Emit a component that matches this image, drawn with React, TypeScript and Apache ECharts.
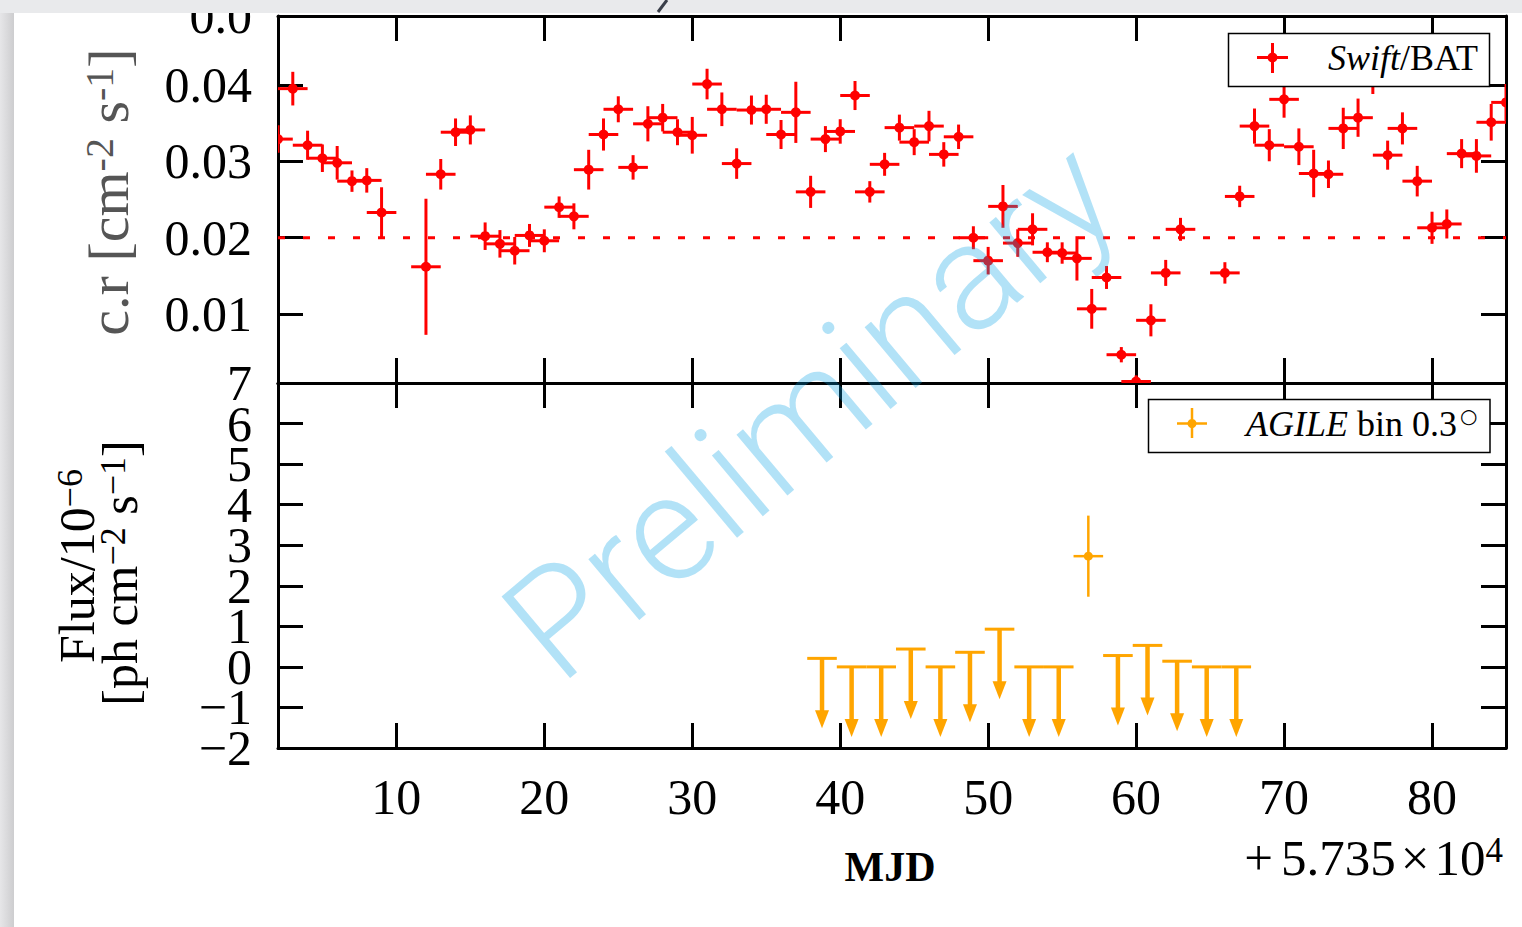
import React, { useEffect, useRef } from "react";
import * as echarts from "echarts";

// ---------------- data ----------------
const X_MIN = 2;
const X_MAX = 85;
const X_TICKS = [10, 20, 30, 40, 50, 60, 70, 80];

const BAT_Y_MIN = 0.001;
const BAT_Y_MAX = 0.049;
const BAT_Y_TICKS = [0.01, 0.02, 0.03, 0.04];

const FLUX_MIN = -2;
const FLUX_MAX = 7;
const FLUX_TICKS = [-2, -1, 0, 1, 2, 3, 4, 5, 6, 7];
const FLUX_LABELS_EVEN = [-2, 0, 2, 4, 6];
const FLUX_LABELS_ODD = [-1, 1, 3, 5, 7];

const BAT_MJD = [
  2, 3, 4, 5, 6, 7, 8, 9, 12, 13, 14, 15, 16, 17, 18, 19, 20, 21, 22, 23, 24, 25, 26, 27, 28, 29,
  30, 31, 32, 33, 34, 35, 36, 37, 38, 39, 40, 41, 42, 43, 44, 45, 46, 47, 48, 49, 50, 51, 52, 53,
  54, 55, 56, 57, 58, 59, 60, 61, 62, 63, 66, 67, 68, 69, 70, 71, 72, 73, 74, 75, 76, 77, 78, 79,
  80, 81, 82, 83, 84, 85,
];
const BAT_RATE = [
  0.0329, 0.0395, 0.0321, 0.0304, 0.0298, 0.0274, 0.0275, 0.0233, 0.0162, 0.0283, 0.0338, 0.0341,
  0.0202, 0.0192, 0.0183, 0.0203, 0.0196, 0.024, 0.0228, 0.0289, 0.0335, 0.0368, 0.0292, 0.0349,
  0.0357, 0.0338, 0.0334, 0.0401, 0.0368, 0.0297, 0.0367, 0.0368, 0.0335, 0.0364, 0.026, 0.0329,
  0.0339, 0.0386, 0.026, 0.0296, 0.0344, 0.0325, 0.0346, 0.0309, 0.0332, 0.02, 0.017, 0.0241,
  0.0193, 0.0211, 0.0181, 0.018, 0.0173, 0.0107, 0.0148, 0.0047, 0.0012, 0.0092, 0.0154, 0.0211,
  0.0154, 0.0254, 0.0346, 0.0321, 0.0381, 0.0319, 0.0284, 0.0283, 0.0343, 0.0357, 0.0412, 0.0308,
  0.0343, 0.0274, 0.0213, 0.0218, 0.031, 0.0307, 0.0351, 0.0377,
];
const BAT_ERR = [
  0.0018, 0.0022, 0.0019, 0.0018, 0.0022, 0.0014, 0.0016, 0.0033, 0.0089, 0.002, 0.0018, 0.0019,
  0.0018, 0.0018, 0.0018, 0.0015, 0.0015, 0.0014, 0.0017, 0.0026, 0.0021, 0.0017, 0.0016, 0.0023,
  0.0018, 0.0017, 0.0024, 0.002, 0.0022, 0.002, 0.0019, 0.0019, 0.0019, 0.004, 0.0021, 0.0017,
  0.0016, 0.0019, 0.0014, 0.0015, 0.0017, 0.0017, 0.002, 0.0016, 0.0016, 0.0015, 0.0018, 0.0028,
  0.0018, 0.0021, 0.0013, 0.0014, 0.0029, 0.0026, 0.0015, 0.001, 0.0008, 0.0021, 0.0017, 0.0015,
  0.0014, 0.0014, 0.0023, 0.0021, 0.0024, 0.0024, 0.0031, 0.0018, 0.0027, 0.0025, 0.0024, 0.0019,
  0.0021, 0.002, 0.0021, 0.0019, 0.0019, 0.0022, 0.0024, 0.0024,
];
const BAT_XERR = 1;
const BAT_THRESHOLD = 0.02;

const AGILE_DET_MJD = [56.77];
const AGILE_DET_FLUX = [2.73];
const AGILE_DET_ERR = [1.0];
const AGILE_UL_MJD = [
  38.77, 40.77, 42.77, 44.77, 46.77, 48.77, 50.77, 52.77, 54.77, 58.77, 60.77, 62.77, 64.77, 66.77,
];
const AGILE_UL = [0.21, 0.0, 0.0, 0.44, 0.0, 0.36, 0.93, 0.0, 0.0, 0.28, 0.53, 0.14, 0.0, 0.0];
const AGILE_XERR = 1;

// ---------------- style ----------------
const FONT = "'Liberation Serif', 'Times New Roman', 'DejaVu Serif', serif";
const RED = "#ff0000";
const ORANGE = "#ffa500";

function xAxis(gridIndex: number, position: string, showLabel: boolean) {
  return {
    type: "value",
    gridIndex,
    position,
    min: X_MIN,
    max: X_MAX,
    axisLine: { show: true, onZero: false, lineStyle: { color: "#000", width: 3 } },
    axisTick: {
      show: true,
      inside: true,
      length: 25,
      customValues: X_TICKS,
      lineStyle: { color: "#000", width: 3 },
    },
    axisLabel: {
      show: showLabel,
      customValues: X_TICKS,
      fontFamily: FONT,
      fontSize: 50,
      color: "#000",
      margin: 24,
    },
    splitLine: { show: false },
  };
}

function yAxis(
  gridIndex: number,
  position: string,
  min: number,
  max: number,
  ticks: number[] | null,
  labels: number[] | null,
  showLine: boolean
) {
  return {
    type: "value",
    gridIndex,
    position,
    min,
    max,
    axisLine: { show: showLine, onZero: false, lineStyle: { color: "#000", width: 3 } },
    axisTick: {
      show: !!ticks,
      inside: true,
      length: 25,
      customValues: ticks || [],
      lineStyle: { color: "#000", width: 3 },
    },
    axisLabel: {
      show: !!labels,
      customValues: labels || [],
      showMinLabel: true,
      showMaxLabel: true,
      fontFamily: FONT,
      fontSize: 50,
      color: "#000",
      margin: 26,
      formatter: (v: number) => String(v).replace("-", "\u2212"),
    },
    splitLine: { show: false },
  };
}

function txt(
  x: number,
  y: number,
  text: string,
  opts: any = {},
  rich?: any,
  rotation = 0,
  z = 60
) {
  return {
    type: "text",
    x,
    y,
    rotation,
    z,
    style: {
      text,
      fontFamily: FONT,
      fontSize: 50,
      fill: "#000",
      align: "center",
      verticalAlign: "middle",
      textAlign: "center",
      textVerticalAlign: "middle",
      rich,
      ...opts,
    },
  };
}

export default function App() {
  const ref = useRef<HTMLDivElement>(null);

  useEffect(() => {
    if (!ref.current) return;
    const chart = echarts.init(ref.current, null, { renderer: "svg" });

    const batData = BAT_MJD.map((x, i) => [x, BAT_RATE[i], BAT_ERR[i]]);
    const detData = AGILE_DET_MJD.map((x, i) => [x, AGILE_DET_FLUX[i], AGILE_DET_ERR[i]]);
    const ulData = AGILE_UL_MJD.map((x, i) => [x, AGILE_UL[i]]);

    const supRich = (size: number, color: string, supSize: number) => ({
      n: { fontFamily: FONT, fontSize: size, fill: color, color },
      i: { fontFamily: FONT, fontSize: size, fill: color, color, fontStyle: "italic" },
      s: { fontFamily: FONT, fontSize: supSize, fill: color, color, verticalAlign: "top" },
      o: {
        fontFamily: "'DejaVu Sans', sans-serif",
        fontSize: supSize,
        fill: color,
        color,
        verticalAlign: "top",
        padding: [0, 0, 0, 3],
      },
      x: { fontFamily: FONT, fontSize: size, fill: color, color, padding: [0, 5, 0, 5] },
      p: { fontFamily: FONT, fontSize: size, fill: color, color, padding: [0, 8, 0, 0] },
    });

    const option: any = {
      animation: false,
      grid: [
        { left: 278, top: 16, width: 1228, height: 367 },
        { left: 278, top: 383, width: 1228, height: 365 },
      ],
      xAxis: [
        xAxis(0, "bottom", false),
        xAxis(0, "top", false),
        xAxis(1, "bottom", true),
        xAxis(1, "top", false),
      ],
      yAxis: [
        yAxis(0, "left", BAT_Y_MIN, BAT_Y_MAX, BAT_Y_TICKS, BAT_Y_TICKS, true),
        yAxis(0, "right", BAT_Y_MIN, BAT_Y_MAX, BAT_Y_TICKS, null, true),
        yAxis(1, "left", FLUX_MIN, FLUX_MAX, FLUX_TICKS, FLUX_LABELS_EVEN, true),
        yAxis(1, "right", FLUX_MIN, FLUX_MAX, FLUX_TICKS, null, true),
        yAxis(1, "left", FLUX_MIN, FLUX_MAX, null, FLUX_LABELS_ODD, false),
      ],
      series: [
        {
          type: "line",
          xAxisIndex: 0,
          yAxisIndex: 0,
          data: [
            [X_MIN, BAT_THRESHOLD],
            [X_MAX, BAT_THRESHOLD],
          ],
          symbol: "none",
          lineStyle: { color: RED, width: 3, type: [7, 18] },
          z: 2,
        },
        {
          type: "custom",
          name: "Swift/BAT",
          xAxisIndex: 0,
          yAxisIndex: 0,
          clip: true,
          z: 3,
          data: batData,
          encode: { x: 0, y: 1 },
          renderItem: (_p: any, api: any) => {
            const x = api.value(0);
            const y = api.value(1);
            const e = api.value(2);
            const c = api.coord([x, y]);
            const l = api.coord([x - BAT_XERR, y]);
            const r = api.coord([x + BAT_XERR, y]);
            const t = api.coord([x, y + e]);
            const b = api.coord([x, y - e]);
            const style = { stroke: RED, lineWidth: 3 };
            return {
              type: "group",
              children: [
                { type: "line", shape: { x1: l[0], y1: l[1], x2: r[0], y2: r[1] }, style },
                { type: "line", shape: { x1: t[0], y1: t[1], x2: b[0], y2: b[1] }, style },
                { type: "circle", shape: { cx: c[0], cy: c[1], r: 5 }, style: { fill: RED } },
              ],
            };
          },
        },
        {
          type: "custom",
          name: "AGILE",
          xAxisIndex: 2,
          yAxisIndex: 2,
          clip: true,
          z: 3,
          data: detData,
          encode: { x: 0, y: 1 },
          renderItem: (_p: any, api: any) => {
            const x = api.value(0);
            const y = api.value(1);
            const e = api.value(2);
            const c = api.coord([x, y]);
            const l = api.coord([x - AGILE_XERR, y]);
            const r = api.coord([x + AGILE_XERR, y]);
            const t = api.coord([x, y + e]);
            const b = api.coord([x, y - e]);
            const style = { stroke: ORANGE, lineWidth: 2.5 };
            return {
              type: "group",
              children: [
                { type: "line", shape: { x1: l[0], y1: l[1], x2: r[0], y2: r[1] }, style },
                { type: "line", shape: { x1: t[0], y1: t[1], x2: b[0], y2: b[1] }, style },
                { type: "circle", shape: { cx: c[0], cy: c[1], r: 4.5 }, style: { fill: ORANGE } },
              ],
            };
          },
        },
        {
          type: "custom",
          name: "AGILE UL",
          xAxisIndex: 2,
          yAxisIndex: 2,
          clip: true,
          z: 3,
          data: ulData,
          encode: { x: 0, y: 1 },
          renderItem: (_p: any, api: any) => {
            const x = api.value(0);
            const y = api.value(1);
            const c = api.coord([x, y]);
            const l = api.coord([x - AGILE_XERR, y]);
            const r = api.coord([x + AGILE_XERR, y]);
            const baseY = c[1] + 52;
            const tipY = c[1] + 70;
            return {
              type: "group",
              children: [
                {
                  type: "line",
                  shape: { x1: l[0], y1: l[1], x2: r[0], y2: r[1] },
                  style: { stroke: ORANGE, lineWidth: 3 },
                },
                {
                  type: "line",
                  shape: { x1: c[0], y1: c[1], x2: c[0], y2: baseY + 1 },
                  style: { stroke: ORANGE, lineWidth: 4.5 },
                },
                {
                  type: "polygon",
                  shape: {
                    points: [
                      [c[0] - 7, baseY],
                      [c[0] + 7, baseY],
                      [c[0], tipY],
                    ],
                  },
                  style: { fill: ORANGE },
                },
              ],
            };
          },
        },
      ],
      graphic: [
        // partial tick label of the panel above
        txt(252, 16, "0.0", { align: "right", textAlign: "right" }),
        // y titles
        txt(
          108,
          192,
          "{n|c.r [cm}{s|-2}{n| s}{s|-1}{n|]}",
          {},
          supRich(58, "#555555", 40),
          Math.PI / 2
        ),
        txt(77, 566, "{n|Flux/10}{s|\u22126}", {}, supRich(50, "#000", 36), Math.PI / 2),
        txt(
          120,
          573,
          "{n|[ph cm}{s|\u22122}{n| s}{s|\u22121}{n|]}",
          {},
          supRich(50, "#000", 36),
          Math.PI / 2
        ),
        // x title and offset
        txt(890, 867, "MJD", { fontSize: 42, fontWeight: "bold" }),
        txt(
          1503,
          858,
          "{p|+}{n|5.735}{x|\u00d7}{n|10}{s|4}",
          { align: "right", textAlign: "right" },
          supRich(51, "#000", 35)
        ),
        // legend top
        {
          type: "group",
          z: 100,
          children: [
            {
              type: "rect",
              z: 100,
              shape: { x: 1228.5, y: 33.5, width: 261, height: 53 },
              style: { fill: "#fff", stroke: "#000", lineWidth: 1.5 },
            },
            {
              type: "line",
              z: 101,
              shape: { x1: 1257, y1: 57.5, x2: 1288, y2: 57.5 },
              style: { stroke: RED, lineWidth: 3 },
            },
            {
              type: "line",
              z: 101,
              shape: { x1: 1272.5, y1: 43, x2: 1272.5, y2: 73 },
              style: { stroke: RED, lineWidth: 3 },
            },
            {
              type: "circle",
              z: 101,
              shape: { cx: 1272.5, cy: 57.5, r: 5 },
              style: { fill: RED },
            },
            {
              ...txt(1328, 58, "{i|Swift}{n|/BAT}", { align: "left", textAlign: "left" }, supRich(36, "#000", 24)),
              z: 101,
            },
          ],
        },
        // legend bottom
        {
          type: "group",
          z: 100,
          children: [
            {
              type: "rect",
              z: 100,
              shape: { x: 1148.5, y: 399.5, width: 341.5, height: 53 },
              style: { fill: "#fff", stroke: "#000", lineWidth: 1.5 },
            },
            {
              type: "line",
              z: 101,
              shape: { x1: 1177, y1: 423.5, x2: 1207, y2: 423.5 },
              style: { stroke: ORANGE, lineWidth: 2.5 },
            },
            {
              type: "line",
              z: 101,
              shape: { x1: 1192, y1: 408, x2: 1192, y2: 438 },
              style: { stroke: ORANGE, lineWidth: 2.5 },
            },
            {
              type: "circle",
              z: 101,
              shape: { cx: 1192, cy: 423.5, r: 4.5 },
              style: { fill: ORANGE },
            },
            {
              ...txt(
                1246,
                424,
                "{i|AGILE}{n| bin 0.3}{o|\u25cb}",
                { align: "left", textAlign: "left" },
                supRich(36, "#000", 20)
              ),
              z: 101,
            },
          ],
        },
        // watermark
        {
          type: "text",
          x: 810,
          y: 410,
          rotation: (40 * Math.PI) / 180,
          z: 150,
          style: {
            text: "Preliminary",
            fontFamily: "Roboto, 'Open Sans', 'Liberation Sans', sans-serif",
            fontWeight: 300,
            fontSize: 150,
            fill: "rgba(0,160,230,0.3)",
            align: "center",
            verticalAlign: "middle",
            textAlign: "center",
            textVerticalAlign: "middle",
          },
        },
        // screenshot frame strips
        {
          type: "rect",
          z: 200,
          shape: { x: 0, y: 0, width: 1522, height: 13 },
          style: { fill: "#e9eaec" },
        },
        {
          type: "rect",
          z: 200,
          shape: { x: 0, y: 13, width: 14, height: 914 },
          style: {
            fill: new echarts.graphic.LinearGradient(0, 0, 1, 0, [
              { offset: 0, color: "#e6e6e8" },
              { offset: 1, color: "#cdcdcf" },
            ]),
          },
        },
        {
          type: "line",
          z: 201,
          shape: { x1: 658, y1: 12, x2: 667, y2: 0 },
          style: { stroke: "#3a3f4a", lineWidth: 3 },
        },
      ],
    };

    chart.setOption(option);
    return () => {
      chart.dispose();
    };
  }, []);

  return (
    <div
      ref={ref}
      style={{ position: "absolute", left: 0, top: 0, width: 1522, height: 927, background: "#fff" }}
    />
  );
}
